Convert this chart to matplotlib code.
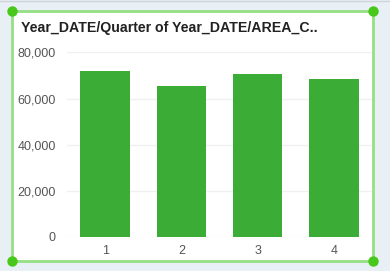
import matplotlib
matplotlib.use("Agg")
import matplotlib.pyplot as plt
from matplotlib.patches import Rectangle
from matplotlib.lines import Line2D

categories = ["1", "2", "3", "4"]
values = [71960, 65450, 70660, 68490]
yticks = [0, 20000, 40000, 60000, 80000]
ytick_labels = ["0", "20,000", "40,000", "60,000", "80,000"]
title = "Year_DATE/Quarter of Year_DATE/AREA_C.."

W, H = 390, 271
fig = plt.figure(figsize=(W / 100, H / 100), dpi=100)
fig.patch.set_facecolor("#e9f0f5")
plt.rcParams['font.family'] = ['Liberation Sans', 'DejaVu Sans']

# card
card = Rectangle((11.5 / W, 1 - 260.5 / H), (373 - 11.5) / W, (260.5 - 10.5) / H,
                 transform=fig.transFigure, facecolor="white", edgecolor="#95df84",
                 linewidth=2, zorder=-5)
fig.add_artist(card)
# top grey line
fig.add_artist(Line2D([0, 1], [1 - 0.5 / H, 1 - 0.5 / H], transform=fig.transFigure,
                      color="#cfd4d8", linewidth=1, zorder=-4))
for (x, y) in [(11.5, 10.5), (373, 10.5), (11.5, 260.5), (373, 260.5)]:
    fig.add_artist(Line2D([x / W], [1 - y / H], transform=fig.transFigure, marker="o",
                          markersize=7.5, color="#48c81a", markeredgewidth=0, zorder=5))

ax = fig.add_axes([67 / W, 1 - 236.7 / H, (372 - 67) / W, (236.7 - 52.5) / H])
ax.set_facecolor("none")
x = list(range(len(categories)))
ax.bar(x, values, width=0.65, color="#3bad37", zorder=3)
ax.set_xlim(-0.5, 3.5)
ax.set_ylim(0, 80000)
ax.set_yticks(yticks)
ax.set_yticklabels(ytick_labels)
ax.set_xticks(x)
ax.set_xticklabels(categories)
ax.grid(axis="y", color="#f0f0f0", linewidth=1, zorder=0)
for s in ax.spines.values():
    s.set_visible(False)
ax.tick_params(axis="both", length=0, colors="#555555", labelsize=9.0)
ax.tick_params(axis="y", pad=8)
ax.tick_params(axis="x", pad=6)

fig.text(21 / W, 1 - 28 / H, title, fontsize=10.2, fontweight="bold", color="#222222",
         va="center", ha="left")

fig.savefig("out.png", dpi=100, facecolor=fig.get_facecolor())
